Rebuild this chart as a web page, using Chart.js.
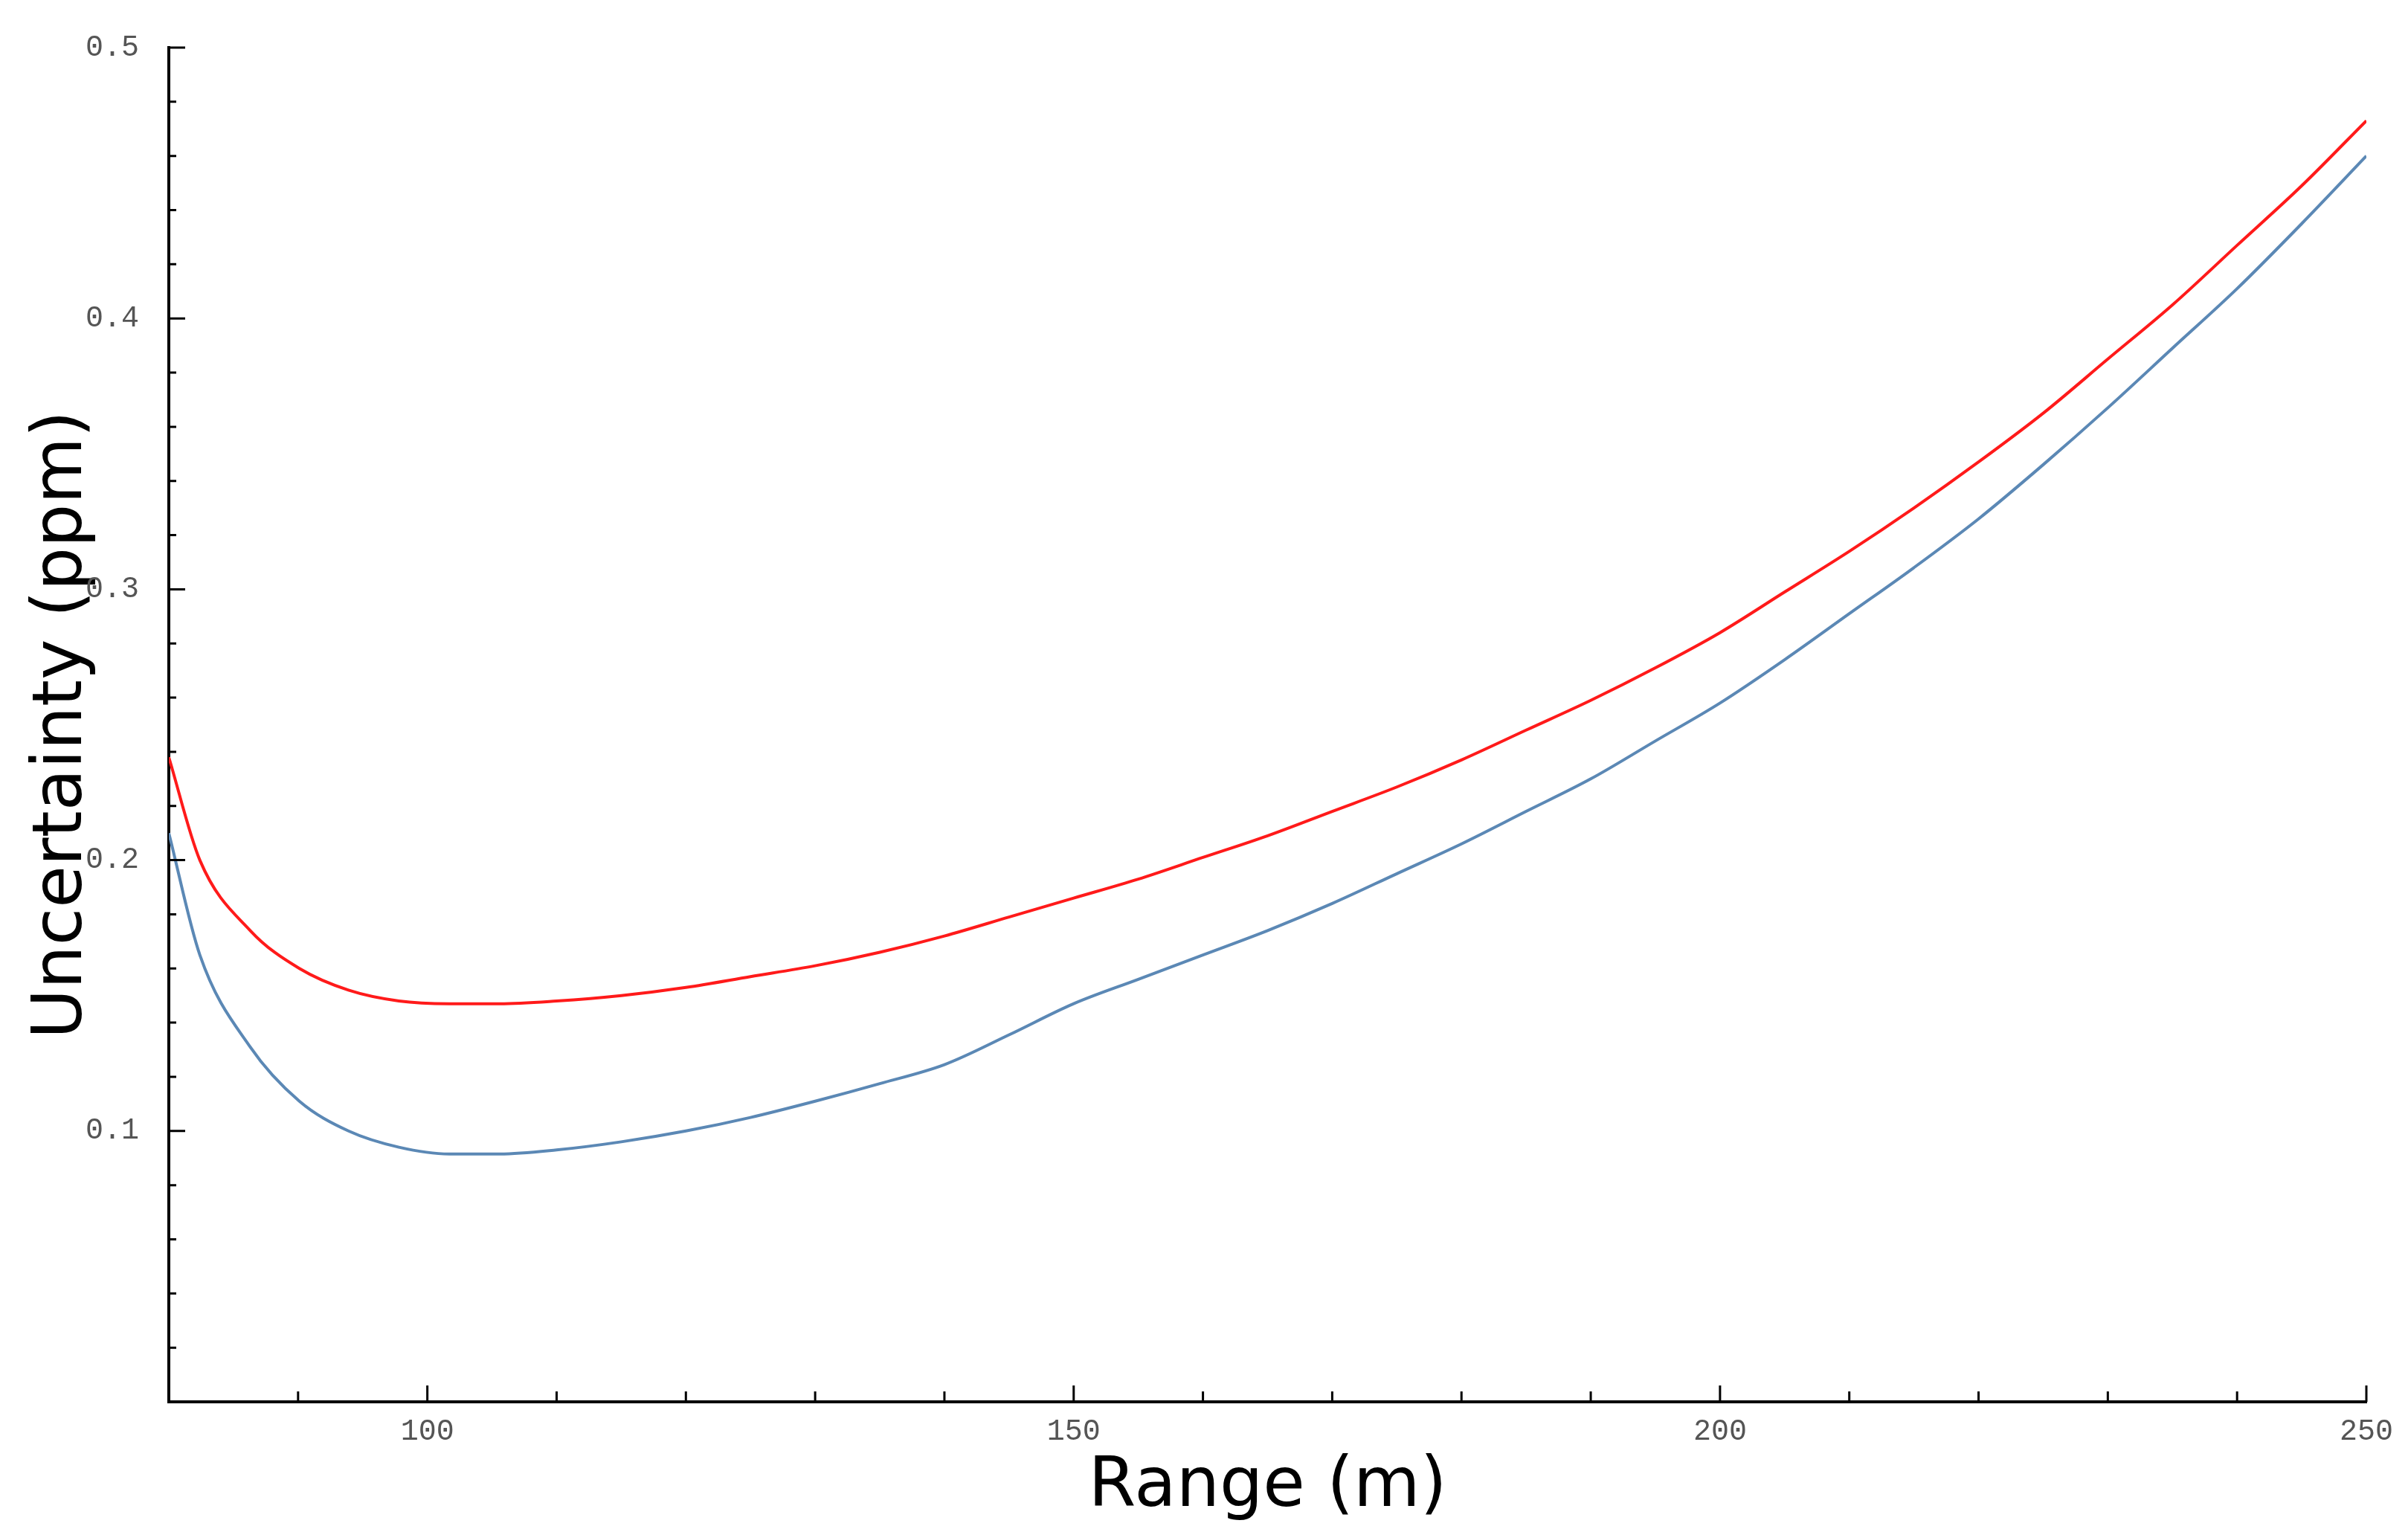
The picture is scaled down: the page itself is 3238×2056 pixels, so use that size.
<!DOCTYPE html>
<html>
<head>
<meta charset="utf-8">
<script src="https://cdn.jsdelivr.net/npm/chart.js@4/dist/chart.umd.min.js"></script>
<style>
  html, body { margin: 0; padding: 0; background: #fff; }
  #wrap { width: 3238px; height: 2056px; }
</style>
</head>
<body>
<div id="wrap"><canvas id="c" width="3238" height="2056"></canvas></div>
<script>
// ===== DATA =====
const rangeX = [80, 82.4, 86.3, 90.1, 93.9, 97.8, 101.7, 105.6, 110, 115, 120, 125, 130, 135, 140, 145, 150, 155, 160, 165, 170, 175, 180, 185, 190, 195, 200, 205, 210, 215, 220, 225, 230, 235, 240, 245, 250];
const redY = [0.238, 0.200, 0.174, 0.160, 0.152, 0.148, 0.147, 0.147, 0.148, 0.150, 0.153, 0.157, 0.161, 0.166, 0.172, 0.179, 0.186, 0.193, 0.201, 0.209, 0.218, 0.227, 0.237, 0.248, 0.259, 0.271, 0.284, 0.299, 0.314, 0.330, 0.347, 0.365, 0.385, 0.405, 0.427, 0.449, 0.473];
const blueY = [0.210, 0.165, 0.131, 0.111, 0.100, 0.094, 0.0915, 0.0915, 0.093, 0.096, 0.100, 0.105, 0.111, 0.1175, 0.1245, 0.1355, 0.147, 0.156, 0.165, 0.174, 0.184, 0.195, 0.206, 0.218, 0.230, 0.244, 0.258, 0.274, 0.291, 0.308, 0.326, 0.346, 0.367, 0.389, 0.411, 0.435, 0.460];
const xTickLabels = [100, 150, 200, 250];
const yTickLabels = [0.1, 0.2, 0.3, 0.4, 0.5];
const xMinor = [90, 110, 120, 130, 140, 160, 170, 180, 190, 210, 220, 230, 240];
const yMinor = [0.02, 0.04, 0.06, 0.08, 0.12, 0.14, 0.16, 0.18, 0.22, 0.24, 0.26, 0.28, 0.32, 0.34, 0.36, 0.38, 0.42, 0.44, 0.46, 0.48];

const toPts = (ys) => rangeX.map((x, i) => ({ x: x, y: ys[i] }));

// ===== INSIDE TICKS =====
const innerTicks = {
  id: "innerTicks",
  afterDraw(chart) {
    const ctx = chart.ctx;
    const xs = chart.scales.x, ys = chart.scales.y;
    ctx.save();
    ctx.strokeStyle = "#000";
    ctx.lineWidth = 3;
    ctx.beginPath();
    xTickLabels.forEach((v) => { const p = xs.getPixelForValue(v); ctx.moveTo(p, ys.bottom); ctx.lineTo(p, ys.bottom - 22); });
    xMinor.forEach((v) => { const p = xs.getPixelForValue(v); ctx.moveTo(p, ys.bottom); ctx.lineTo(p, ys.bottom - 14); });
    yTickLabels.forEach((v) => { const p = ys.getPixelForValue(v); ctx.moveTo(xs.left, p); ctx.lineTo(xs.left + 22, p); });
    yMinor.forEach((v) => { const p = ys.getPixelForValue(v); ctx.moveTo(xs.left, p); ctx.lineTo(xs.left + 10, p); });
    ctx.stroke();
    ctx.restore();
  },
};

const tickFont = { family: "'Liberation Mono', 'DejaVu Sans Mono', monospace", size: 40 };
const titleFont = { family: "'DejaVu Sans', Verdana, sans-serif", size: 92 };

new Chart(document.getElementById("c"), {
  type: "line",
  data: {
    datasets: [
      { label: "red", data: toPts(redY), borderColor: "#ff1a1a", borderWidth: 4, pointRadius: 0, cubicInterpolationMode: "monotone" },
      { label: "blue", data: toPts(blueY), borderColor: "#5b88b5", borderWidth: 4, pointRadius: 0, cubicInterpolationMode: "monotone" },
    ],
  },
  plugins: [innerTicks],
  options: {
    responsive: false,
    animation: false,
    layout: { padding: { top: 56, right: 56, left: 30, bottom: 0 } },
    plugins: { legend: { display: false }, tooltip: { enabled: false } },
    scales: {
      x: {
        type: "linear",
        min: 80,
        max: 250,
        afterBuildTicks: (s) => { s.ticks = xTickLabels.map((v) => ({ value: v })); },
        afterFit: (s) => { s.height = 171; },
        grid: { display: false, drawTicks: false },
        border: { color: "#000", width: 4 },
        ticks: { color: "#555", font: tickFont, padding: 16, maxRotation: 0 },
        title: { display: true, text: "Range (m)", color: "#000", font: titleFont, padding: { top: 0, bottom: 0 } },
      },
      y: {
        min: 0,
        max: 0.5,
        afterBuildTicks: (s) => { s.ticks = yTickLabels.map((v) => ({ value: v })); },
        afterFit: (s) => { s.width = 197; },
        grid: { display: false, drawTicks: false },
        border: { color: "#000", width: 4 },
        ticks: { color: "#555", font: tickFont, padding: 40, callback: (v) => v.toFixed(1) },
        title: { display: true, text: "Uncertainty (ppm)", color: "#000", font: titleFont, padding: { top: 0, bottom: 0 } },
      },
    },
  },
});
</script>
</body>
</html>
